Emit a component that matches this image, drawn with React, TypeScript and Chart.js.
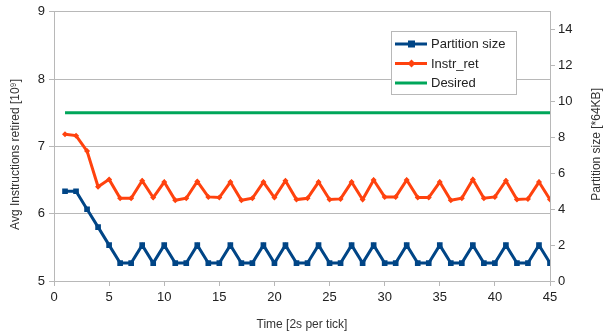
import React, { useEffect, useRef } from "react";
import { Chart, registerables } from "chart.js";

Chart.register(...registerables);

// Sample index (one tick every 2 s)
const time = [
  1, 2, 3, 4, 5, 6, 7, 8, 9, 10, 11, 12, 13, 14, 15, 16, 17, 18, 19, 20, 21, 22, 23,
  24, 25, 26, 27, 28, 29, 30, 31, 32, 33, 34, 35, 36, 37, 38, 39, 40, 41, 42, 43, 44, 45,
];

// Partition size in units of 64KB (right axis)
const partitionSize = [
  5, 5, 4, 3, 2, 1, 1, 2, 1, 2, 1, 1, 2, 1, 1, 2, 1, 1, 2, 1, 2, 1, 1,
  2, 1, 1, 2, 1, 2, 1, 1, 2, 1, 1, 2, 1, 1, 2, 1, 1, 2, 1, 1, 2, 1,
];

// Average instructions retired, in 10^9 (left axis)
const instrRet = [
  7.18, 7.16, 6.93, 6.4, 6.51, 6.23, 6.23, 6.49, 6.24, 6.47, 6.2, 6.23, 6.48, 6.25, 6.24,
  6.47, 6.2, 6.23, 6.47, 6.24, 6.49, 6.21, 6.23, 6.47, 6.21, 6.22, 6.47, 6.21, 6.5, 6.25,
  6.25, 6.5, 6.24, 6.24, 6.47, 6.2, 6.23, 6.51, 6.23, 6.25, 6.49, 6.21, 6.22, 6.47, 6.21,
];

// Target throughput
const desiredTime = [1, 45];
const desiredValues = [7.5, 7.5];

const xTicks = { min: 0, max: 45, step: 5 };
const leftTicks = { min: 5, max: 9, step: 1 };
const rightTicks = { min: 0, max: 15, step: 2 };

const BLUE = "#004586";
const ORANGE = "#ff420e";
const GREEN = "#00a65a";
const GRID = "#b8b8b8";
const TEXT = "#222222";
const FONT = "'Liberation Sans', Arial, sans-serif";

const legendItems = [
  { label: "Partition size", color: BLUE, marker: "rect" },
  { label: "Instr_ret", color: ORANGE, marker: "diamond" },
  { label: "Desired", color: GREEN, marker: "" },
];

const overlayPlugin = {
  id: "overlay",
  afterDraw(chart: Chart) {
    const { ctx, chartArea } = chart;
    ctx.save();
    ctx.fillStyle = "#333333";
    ctx.font = `12px ${FONT}`;
    ctx.textAlign = "center";
    ctx.textBaseline = "middle";
    const midY = (chartArea.top + chartArea.bottom) / 2;

    // rotated axis titles
    ctx.save();
    ctx.translate(15.5, midY + 8);
    ctx.rotate(-Math.PI / 2);
    ctx.fillText("Avg Instructions retired [10\u2079]", 0, 0);
    ctx.restore();

    ctx.save();
    ctx.translate(596.5, midY - 2);
    ctx.rotate(-Math.PI / 2);
    ctx.fillText("Partition size [*64KB]", 0, 0);
    ctx.restore();

    // legend box
    const bx = 391.5, by = 31.5, bw = 125, bh = 63;
    ctx.fillStyle = "#ffffff";
    ctx.fillRect(bx, by, bw, bh);
    ctx.strokeStyle = GRID;
    ctx.lineWidth = 1;
    ctx.strokeRect(bx, by, bw, bh);
    ctx.font = `13px ${FONT}`;
    ctx.textAlign = "left";
    legendItems.forEach((item, i) => {
      const y = 44 + i * 19.5;
      ctx.strokeStyle = item.color;
      ctx.lineWidth = 3;
      ctx.beginPath();
      ctx.moveTo(395, y);
      ctx.lineTo(427, y);
      ctx.stroke();
      ctx.fillStyle = item.color;
      if (item.marker === "rect") {
        ctx.fillRect(408, y - 3.5, 7, 7);
      } else if (item.marker === "diamond") {
        ctx.beginPath();
        ctx.moveTo(411.5, y - 4);
        ctx.lineTo(415.5, y);
        ctx.lineTo(411.5, y + 4);
        ctx.lineTo(407.5, y);
        ctx.closePath();
        ctx.fill();
      }
      ctx.fillStyle = TEXT;
      ctx.fillText(item.label, 431, y + 0.5);
    });
    ctx.restore();
  },
};

export default function App() {
  const canvasRef = useRef<HTMLCanvasElement | null>(null);

  useEffect(() => {
    if (!canvasRef.current) return;
    Chart.defaults.font.family = FONT;

    const chart = new Chart(canvasRef.current, {
      type: "line",
      data: {
        datasets: [
          {
            label: "Desired",
            data: desiredTime.map((x, i) => ({ x, y: desiredValues[i] })),
            yAxisID: "y",
            borderColor: GREEN,
            borderWidth: 3,
            pointRadius: 0,
          },
          {
            label: "Instr_ret",
            data: time.map((x, i) => ({ x, y: instrRet[i] })),
            yAxisID: "y",
            borderColor: ORANGE,
            backgroundColor: ORANGE,
            borderWidth: 3,
            pointStyle: "rectRot",
            pointRadius: 3,
            pointBorderWidth: 0,
          },
          {
            label: "Partition size",
            data: time.map((x, i) => ({ x, y: partitionSize[i] })),
            yAxisID: "y1",
            borderColor: BLUE,
            backgroundColor: BLUE,
            borderWidth: 3,
            pointStyle: "rect",
            pointRadius: 4,
            pointBorderWidth: 0,
          },
        ],
      },
      options: {
        responsive: false,
        animation: false,
        layout: { padding: { top: 11, left: 0, right: 0, bottom: 0 } },
        plugins: { legend: { display: false }, tooltip: { enabled: false } },
        scales: {
          x: {
            type: "linear",
            min: xTicks.min,
            max: xTicks.max,
            afterFit: (s: any) => { s.height = 53; },
            ticks: { stepSize: xTicks.step, color: TEXT, font: { size: 13 }, padding: 4 },
            grid: { drawOnChartArea: false, tickLength: 5, color: GRID },
            border: { color: GRID },
            title: {
              display: true,
              text: "Time [2s per tick]",
              color: "#333333",
              font: { size: 12 },
              padding: { top: 0, bottom: 2 },
            },
          },
          y: {
            type: "linear",
            position: "left",
            min: leftTicks.min,
            max: leftTicks.max,
            afterFit: (s: any) => { s.width = 54; },
            ticks: { stepSize: leftTicks.step, color: TEXT, font: { size: 13 }, padding: 4 },
            grid: { tickLength: 5, color: GRID },
            border: { color: GRID },
          },
          y1: {
            type: "linear",
            position: "right",
            min: rightTicks.min,
            max: rightTicks.max,
            afterFit: (s: any) => { s.width = 53; },
            ticks: {
              stepSize: rightTicks.step,
              includeBounds: false,
              color: TEXT,
              font: { size: 13 },
              padding: 3,
            },
            grid: { drawOnChartArea: false, tickLength: 5, color: GRID },
            border: { color: GRID },
          },
        },
      },
      plugins: [overlayPlugin],
    });
    return () => chart.destroy();
  }, []);

  return (
    <div style={{ position: "absolute", left: 0, top: 0, width: 603, height: 334, background: "#fff" }}>
      <canvas ref={canvasRef} width={603} height={334} style={{ display: "block" }} />
    </div>
  );
}
